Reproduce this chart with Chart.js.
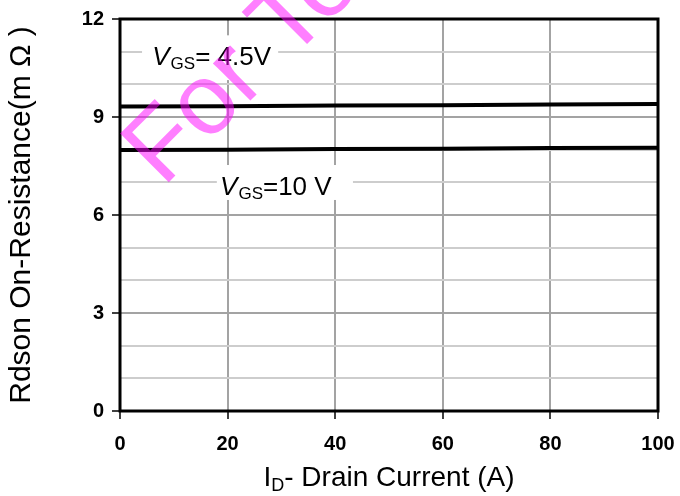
<!DOCTYPE html>
<html>
<head>
<meta charset="utf-8">
<script src="https://cdn.jsdelivr.net/npm/chart.js@4.4.1/dist/chart.umd.min.js"></script>
<style>
  html, body { margin: 0; padding: 0; background: #fff; }
  #wrap { width: 680px; height: 496px; }
</style>
</head>
<body>
<div id="wrap"><canvas id="rdson" width="680" height="496"></canvas></div>
<script>
// drain current (A) and on-resistance (mOhm)
const drainCurrent = [0, 20, 40, 60, 80, 100];
const rdsonVgs45 = [9.32, 9.33, 9.35, 9.36, 9.38, 9.40];
const rdsonVgs10 = [7.99, 8.00, 8.02, 8.03, 8.05, 8.06];
const xTickLabels = [0, 20, 40, 60, 80, 100];
const yTickLabels = [0, 3, 6, 9, 12];

const FONT = "'Liberation Sans', Arial, sans-serif";

const toPoints = (xs, ys) => xs.map((x, i) => ({ x: x, y: ys[i] }));

// draws the frame, the VGS labels, the axis titles and the watermark
const decorations = {
  id: 'decorations',
  afterDraw(chart) {
    const { ctx, chartArea: a, scales: { x, y } } = chart;
    ctx.save();

    // white boxes behind the curve labels (they break the grid)
    ctx.fillStyle = '#fff';
    const box = (x0, x1, y0, y1) => {
      const l = x.getPixelForValue(x0), r = x.getPixelForValue(x1);
      const t = y.getPixelForValue(y0), b = y.getPixelForValue(y1);
      ctx.fillRect(l, t, r - l, b - t);
    };
    box(4.1, 29.4, 11.5, 10.13);
    box(18.0, 43.3, 7.53, 6.46);

    // V_GS labels
    const vgsLabel = (xv, yv, rest) => {
      let px = x.getPixelForValue(xv);
      const py = y.getPixelForValue(yv);
      ctx.fillStyle = '#000';
      ctx.textBaseline = 'alphabetic';
      ctx.textAlign = 'left';
      ctx.font = 'italic 26px ' + FONT;
      ctx.fillText('V', px, py);
      px += ctx.measureText('V').width + 1;
      ctx.font = '17px ' + FONT;
      ctx.fillText('GS', px, py + 4);
      px += ctx.measureText('GS').width;
      ctx.font = '26px ' + FONT;
      ctx.fillText(rest, px, py);
    };
    vgsLabel(6, 10.6, '= 4.5V');
    vgsLabel(18.6, 6.6, '=10 V');

    // plot frame
    ctx.strokeStyle = '#000';
    ctx.lineWidth = 3;
    ctx.strokeRect(a.left, a.top, a.right - a.left, a.bottom - a.top);

    // y axis title
    ctx.save();
    ctx.translate(22, (a.top + a.bottom) / 2);
    ctx.rotate(-Math.PI / 2);
    ctx.font = '30px ' + FONT;
    ctx.textAlign = 'center';
    ctx.textBaseline = 'middle';
    ctx.fillStyle = '#000';
    ctx.fillText('Rdson On-Resistance(m \u03A9 )', 0, 0);
    ctx.restore();

    // x axis title with subscript D
    ctx.textAlign = 'left';
    ctx.textBaseline = 'alphabetic';
    ctx.fillStyle = '#000';
    const big = '28px ' + FONT, small = '18px ' + FONT;
    ctx.font = big; const wI = ctx.measureText('I').width;
    const wRest = ctx.measureText('- Drain Current (A)').width;
    ctx.font = small; const wD = ctx.measureText('D').width;
    let tx = (a.left + a.right) / 2 - (wI + wD + wRest) / 2;
    const ty = 486;
    ctx.font = big; ctx.fillText('I', tx, ty); tx += wI;
    ctx.font = small; ctx.fillText('D', tx, ty + 5); tx += wD;
    ctx.font = big; ctx.fillText('- Drain Current (A)', tx, ty);

    // watermark
    ctx.translate(163, 188);
    ctx.rotate(-Math.PI / 4);
    ctx.font = '100px ' + FONT;
    ctx.fillStyle = 'rgba(255, 0, 255, 0.5)';
    ctx.fillText('For Test', 0, 0);

    ctx.restore();
  }
};

new Chart(document.getElementById('rdson'), {
  type: 'line',
  data: {
    datasets: [
      {
        label: 'VGS=4.5V',
        data: toPoints(drainCurrent, rdsonVgs45),
        borderColor: '#000',
        borderWidth: 4,
        pointRadius: 0,
        tension: 0
      },
      {
        label: 'VGS=10V',
        data: toPoints(drainCurrent, rdsonVgs10),
        borderColor: '#000',
        borderWidth: 4,
        pointRadius: 0,
        tension: 0
      }
    ]
  },
  options: {
    responsive: false,
    animation: false,
    layout: { padding: { left: 0, top: 19, right: 22, bottom: 0 } },
    plugins: {
      legend: { display: false },
      tooltip: { enabled: false }
    },
    scales: {
      x: {
        type: 'linear',
        min: 0,
        max: 100,
        afterFit: s => {
          s.height = 85;
          s.paddingLeft = 0;
          s.paddingRight = 0;
        },
        afterBuildTicks: s => { s.ticks = xTickLabels.map(v => ({ value: v })); },
        border: { display: false },
        grid: {
          color: c => (c.tick && c.tick.value > 0 && c.tick.value < 100) ? '#a3a3a3' : 'transparent',
          lineWidth: 2,
          tickLength: 8,
          tickColor: '#000',
          tickWidth: 1.5
        },
        ticks: {
          color: '#000',
          padding: 13,
          maxRotation: 0,
          autoSkip: false,
          font: { family: FONT, size: 20, weight: 'bold' }
        }
      },
      y: {
        min: 0,
        max: 12,
        afterFit: s => {
          s.width = 120;
          s.paddingTop = 0;
          s.paddingBottom = 0;
        },
        afterBuildTicks: s => {
          const t = [];
          for (let v = 0; v <= 12; v++) t.push({ value: v });
          s.ticks = t;
        },
        border: { display: false },
        grid: {
          color: c => yTickLabels.includes(c.tick.value) ? '#a3a3a3' : '#cdcdcd',
          lineWidth: 2,
          tickLength: 8,
          tickColor: c => yTickLabels.includes(c.tick.value) ? '#000' : 'transparent',
          tickWidth: 1.5
        },
        ticks: {
          color: '#000',
          padding: 8,
          autoSkip: false,
          callback: v => yTickLabels.includes(v) ? String(v) : '',
          font: { family: FONT, size: 20, weight: 'bold' }
        }
      }
    }
  },
  plugins: [decorations]
});
</script>
</body>
</html>
